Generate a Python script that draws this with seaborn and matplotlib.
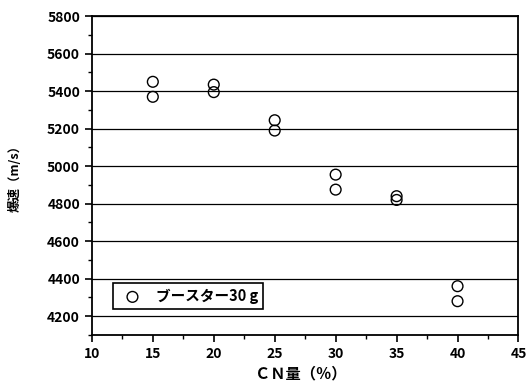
import matplotlib
matplotlib.use("Agg")
import matplotlib.pyplot as plt
from matplotlib.ticker import MultipleLocator
import pandas as pd
import seaborn as sns

# CN content (%) and detonation velocity (m/s), two shots per level
cn_content = [15, 15, 20, 20, 25, 25, 30, 30, 35, 35, 40, 40]
velocity = [5450, 5370, 5435, 5395, 5245, 5190, 4955, 4875, 4840, 4820, 4360, 4280]
series_label = "ブースター30 g"
x_ticks = [10, 15, 20, 25, 30, 35, 40, 45]
y_ticks = [4200, 4400, 4600, 4800, 5000, 5200, 5400, 5600, 5800]

sns.set_theme(style="ticks")
plt.rcParams["font.family"] = ["Liberation Sans Narrow", "Noto Sans CJK JP", "DejaVu Sans"]
plt.rcParams["font.weight"] = "bold"
plt.rcParams["text.color"] = "black"
plt.rcParams["axes.labelcolor"] = "black"

df = pd.DataFrame({"cn": cn_content, "v": velocity})

fig = plt.figure(figsize=(5.28, 3.85), dpi=100)
ax = fig.add_axes([0.174, 0.130, 0.808, 0.828])

sns.scatterplot(data=df, x="cn", y="v", ax=ax, marker="o", s=60,
                facecolor="none", edgecolor="black", linewidth=1.0,
                label=series_label, zorder=3)

ax.set_xlim(10, 45)
ax.set_ylim(4100, 5800)
ax.set_xticks(x_ticks)
ax.set_yticks(y_ticks)
ax.xaxis.set_minor_locator(MultipleLocator(2.5))
ax.yaxis.set_minor_locator(MultipleLocator(100))

for yv in y_ticks:
    ax.axhline(yv, color="black", linewidth=0.9, zorder=1)

for side in ["left", "right", "top", "bottom"]:
    ax.spines[side].set_visible(True)
    ax.spines[side].set_color("black")
    ax.spines[side].set_linewidth(1.3)

ax.tick_params(axis="both", which="major", direction="out", length=5,
               width=1.2, color="black", labelsize=10, labelcolor="black")
ax.tick_params(axis="both", which="minor", direction="out", length=3,
               width=1.0, color="black")
for lbl in ax.get_xticklabels() + ax.get_yticklabels():
    lbl.set_fontweight("bold")

ax.set_xlabel("ＣＮ量（％）", fontsize=11, fontweight="bold", color="black",
              family=["Noto Sans CJK JP", "DejaVu Sans"])
ax.set_ylabel("爆速（m/s）", fontsize=9, fontweight="bold", color="black",
              family=["Noto Sans CJK JP", "DejaVu Sans"])
ax.yaxis.set_label_coords(-0.165, 0.5)
ax.xaxis.set_label_coords(0.49, -0.095)

leg = ax.legend(loc="lower left", bbox_to_anchor=(0.049, 0.082),
                borderaxespad=0, fancybox=False, framealpha=1,
                edgecolor="black", handletextpad=0.6, borderpad=0.35,
                prop={"family": ["Noto Sans CJK JP", "DejaVu Sans"],
                      "weight": "bold", "size": 10.5})
leg.get_frame().set_linewidth(1.2)
for t in leg.get_texts():
    t.set_color("black")

fig.savefig("out.png", dpi=100, facecolor="white")
